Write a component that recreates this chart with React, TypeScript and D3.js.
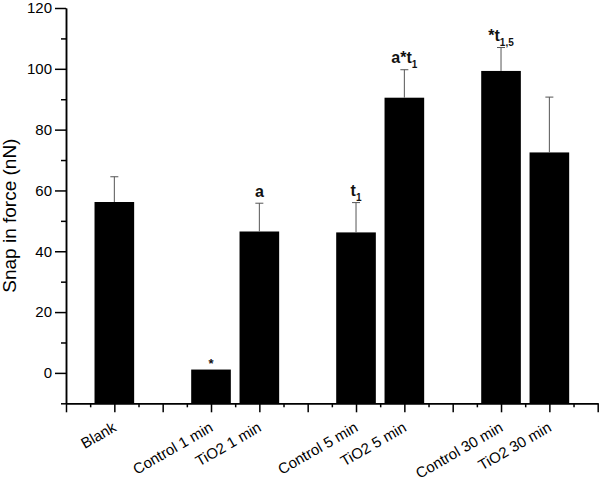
import React, { useRef, useEffect } from 'react';
import * as d3 from 'd3';

// bar data
const categories = ['Blank', 'Control 1 min', 'TiO2 1 min', 'Control 5 min', 'TiO2 5 min', 'Control 30 min', 'TiO2 30 min'];
const positions = [1, 3, 4, 6, 7, 9, 10];
const means = [56.2, 1.1, 46.5, 46.2, 90.5, 99.3, 72.5];
const errors = [8.3, 0, 9.3, 9.8, 9.2, 7.7, 18.2];
// significance marks: main text + subscript
const marks = ['', '*', 'a', 't', 'a*t', '*t', ''];
const markSubs = ['', '', '', '1', '1', '1,5', ''];

const yMajor = [0, 20, 40, 60, 80, 100, 120];
const yMinor = [-10, 10, 30, 50, 70, 90, 110];
const xMajor = [0, 1, 2, 3, 4, 5, 6, 7, 8, 9, 10, 11];
const xMinor = [0.5, 1.5, 2.5, 3.5, 4.5, 5.5, 6.5, 7.5, 8.5, 9.5, 10.5];

const width = 600;
const height = 480;
const font = 'Liberation Sans, Arial, sans-serif';

const App = () => {
  const svgRef = useRef(null);

  useEffect(() => {
    const svg = d3.select(svgRef.current);
    svg.selectAll('*').remove();

    const x = d3.scaleLinear().domain([0, 11]).range([66, 597.7]);
    const y = d3.scaleLinear().domain([-10, 120]).range([403.3, 8]);
    const barW = 0.82 * (x(1) - x(0));

    // bars
    svg.append('g')
      .selectAll('rect')
      .data(means)
      .join('rect')
      .attr('x', (d, i) => x(positions[i]) - barW / 2)
      .attr('y', d => y(d))
      .attr('width', barW)
      .attr('height', d => y(-10) - y(d))
      .attr('fill', '#000');

    // error bars (upper only)
    const eb = svg.append('g').attr('stroke', '#555').attr('stroke-width', 1);
    means.forEach((m, i) => {
      if (!errors[i]) return;
      const cx = x(positions[i]);
      eb.append('line').attr('x1', cx).attr('x2', cx).attr('y1', y(m)).attr('y2', y(m + errors[i]));
      eb.append('line').attr('x1', cx - 4).attr('x2', cx + 4).attr('y1', y(m + errors[i])).attr('y2', y(m + errors[i]));
    });

    // significance letters
    means.forEach((m, i) => {
      if (!marks[i]) return;
      const isStar = marks[i] === '*';
      const t = svg.append('text')
        .attr('x', x(positions[i]))
        .attr('y', y(m + errors[i]) - (isStar ? 2 : 6.5))
        .attr('text-anchor', 'middle')
        .attr('font-family', font)
        .attr('font-weight', 'bold')
        .attr('font-size', isStar ? 13 : 16)
        .attr('fill', '#111');
      t.append('tspan').text(marks[i]);
      if (markSubs[i]) {
        t.append('tspan').attr('dy', 5).attr('font-size', 10).text(markSubs[i]);
      }
    });

    // y axis
    const yAxis = svg.append('g')
      .attr('transform', `translate(${x(0)},0)`)
      .call(d3.axisLeft(y).tickValues(yMajor).tickSize(11).tickSizeOuter(0).tickPadding(3));
    svg.append('g')
      .attr('transform', `translate(${x(0)},0)`)
      .call(d3.axisLeft(y).tickValues(yMinor).tickSize(5).tickSizeOuter(0).tickFormat(() => ''));
    yAxis.selectAll('text').attr('font-family', font).attr('font-size', 15).attr('fill', '#000');

    // x axis
    svg.append('g')
      .attr('transform', `translate(0,${y(-10)})`)
      .call(d3.axisBottom(x).tickValues(xMajor).tickSize(9).tickSizeOuter(0).tickFormat(() => ''));
    svg.append('g')
      .attr('transform', `translate(0,${y(-10)})`)
      .call(d3.axisBottom(x).tickValues(xMinor).tickSize(4).tickSizeOuter(0).tickFormat(() => ''));

    svg.selectAll('.domain, .tick line').attr('stroke', '#000').attr('stroke-width', 1.5);

    // rotated category labels
    svg.append('g')
      .selectAll('text')
      .data(categories)
      .join('text')
      .attr('transform', (d, i) => `translate(${x(positions[i]) + 3},${y(-10) + 27}) rotate(-30)`)
      .attr('text-anchor', 'end')
      .attr('font-family', font)
      .attr('font-size', 15)
      .attr('fill', '#000')
      .text(d => d);

    // y axis title
    svg.append('text')
      .attr('transform', `translate(16,${(y(-10) + y(120)) / 2 + 10}) rotate(-90)`)
      .attr('text-anchor', 'middle')
      .attr('font-family', font)
      .attr('font-size', 19)
      .attr('fill', '#000')
      .text('Snap in force (nN)');
  }, []);

  return (
    <svg ref={svgRef} width={width} height={height}
      style={{ position: 'absolute', left: 0, top: 0, background: '#fff' }} />
  );
};

export default App;
